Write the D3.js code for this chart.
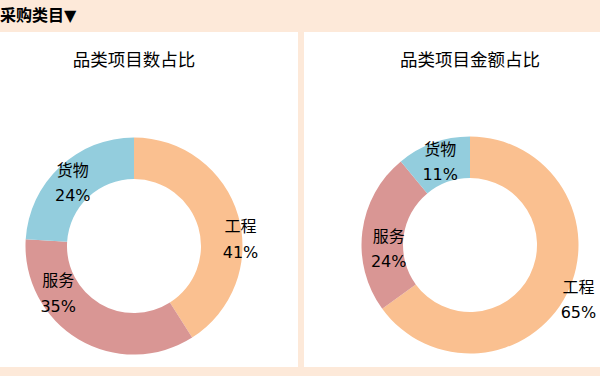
<!DOCTYPE html>
<meta charset="utf-8">
<style>
body{
    margin:0;
    background:#fde9d9;
}
svg{ display:block; }
text{
    font-family: "DejaVu Sans", "Noto Sans CJK SC", sans-serif;
    fill:#000;
}
.header{ font-size:16px; font-weight:bold; }
.title{ font-size:17.5px; }
.slice-label{ font-size:16px; }
</style>
<svg width="600" height="376"></svg>
<script src="https://cdnjs.cloudflare.com/ajax/libs/d3/7.8.5/d3.min.js"></script>
<script>

// data
var categories = ['工程', '服务', '货物'];
var countShare = [41, 35, 24];   // 品类项目数占比 (%)
var amountShare = [65, 24, 11];  // 品类项目金额占比 (%)
var chartTitles = ['品类项目数占比', '品类项目金额占比'];
var headerLabel = '采购类目▼';

// styles / layout
var colour = d3.scaleOrdinal()
    .domain(categories)
    .range(['#fac090', '#d99694', '#93cddd']);

var panels = [
    {x:0,   w:298, cx:134, cy:246, values:countShare,  title:chartTitles[0],
     nudge:[[22,18],[-31,-28],[-1,1]]},
    {x:304, w:296, cx:470, cy:245, values:amountShare, title:chartTitles[1],
     nudge:[[30,15],[6,15],[0,0]]}
];
var outerR = 108.5, innerR = 67, labelR = 88;

var svg = d3.select('svg');

svg.append('text')
    .attr('class', 'header')
    .attr('x', 0)
    .attr('y', 15)
    .attr('dominant-baseline', 'central')
    .text(headerLabel);

var pie = d3.pie().sort(null).value(function(d){ return d.value; });
var arc = d3.arc().innerRadius(innerR).outerRadius(outerR);
var labelArc = d3.arc().innerRadius(labelR).outerRadius(labelR);

panels.forEach(function(p){
    svg.append('rect')
        .attr('x', p.x).attr('y', 32)
        .attr('width', p.w).attr('height', 335)
        .attr('fill', '#fff');

    svg.append('text')
        .attr('class', 'title')
        .attr('x', p.cx)
        .attr('y', 59.5)
        .attr('text-anchor', 'middle')
        .attr('dominant-baseline', 'central')
        .text(p.title);

    var data = categories.map(function(c, i){ return {name:c, value:p.values[i]}; });
    var arcs = pie(data);
    var total = d3.sum(p.values);

    var g = svg.append('g').attr('transform', 'translate(' + p.cx + ',' + p.cy + ')');

    g.selectAll('path')
        .data(arcs)
        .enter()
        .append('path')
        .attr('d', arc)
        .attr('fill', function(d){ return colour(d.data.name); });

    var labels = g.selectAll('g.slice-label')
        .data(arcs)
        .enter()
        .append('g')
        .attr('class', 'slice-label')
        .attr('transform', function(d, i){
            var c = labelArc.centroid(d);
            return 'translate(' + (c[0] + p.nudge[i][0]) + ',' + (c[1] + p.nudge[i][1]) + ')';
        });

    labels.append('text')
        .attr('text-anchor', 'middle')
        .attr('dominant-baseline', 'central')
        .attr('y', -12.75)
        .text(function(d){ return d.data.name; });

    labels.append('text')
        .attr('text-anchor', 'middle')
        .attr('dominant-baseline', 'central')
        .attr('y', 12.75)
        .text(function(d){ return Math.round(d.data.value / total * 100) + '%'; });
});

</script>
